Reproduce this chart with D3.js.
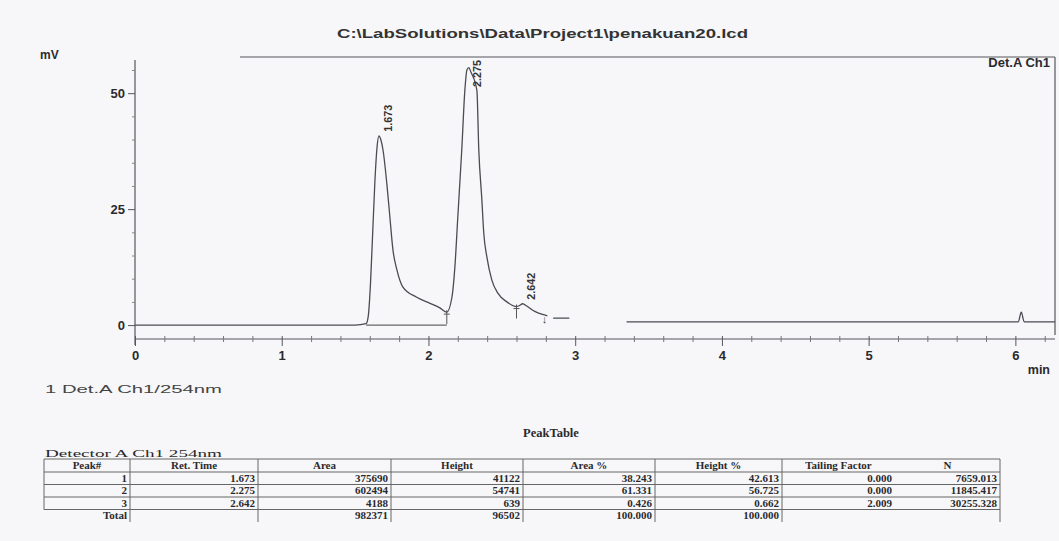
<!DOCTYPE html>
<html><head><meta charset="utf-8">
<script src="https://cdn.jsdelivr.net/npm/d3@7"></script>
<style>
body{margin:0;background:#f7f7f9;}
svg{display:block;}
</style></head>
<body>
<svg id="c" width="1059" height="541"></svg>
<script>
// ---------- data ----------
const titleText = "C:\\LabSolutions\\Data\\Project1\\penakuan20.lcd";
const channelLabel = "Det.A Ch1";
const legendText = "1 Det.A Ch1/254nm";
const xTicks = [0,1,2,3,4,5,6];
const yTicks = [0,25,50];
const yMinor = [5,10,15,20,30,35,40,45,55];
// chromatogram (min, mV); null = trace not visible on the print
const times = [0,0.5,1.0,1.5,1.575,1.590,1.605,1.620,1.635,1.650,1.662,1.675,1.690,1.716,1.737,1.758,1.785,1.826,1.92,2.01,2.078,2.125,2.16,2.18,2.20,2.227,2.248,2.262,2.275,2.29,2.33,2.343,2.364,2.377,2.398,2.432,2.473,2.534,2.60,2.62,2.642,2.67,2.71,2.75,2.79,2.81,2.83,2.85,2.96,3.0,3.35,4.0,5.0,5.9,6.02,6.04,6.06,6.2,6.27];
const signal = [0,0,0,0,0.3,2,9,20,31,38.5,40.8,40,37.8,30.6,23.3,16.2,11.9,8.2,6.0,4.7,3.7,2.8,6,12.5,23.3,37.8,50.6,55,55.5,54.5,50.6,37.8,27,19.8,14.7,9.7,6.9,5.0,4.0,4.2,4.6,4.1,3.2,2.6,2.2,2.0,null,1.5,1.5,null,0.7,0.7,0.7,0.7,0.7,2.8,0.7,0.7,0.7];
// peaks
const peakTimes = [1.673,2.275,2.642];
const peakApex = [40.8,55.5,4.6];
const integBaseline = [[1.575,0],[2.125,0]];
const boundaryMarks = [2.125,2.60];
const endArrow = 2.79;
// peak table
const tableTitle = "PeakTable";
const detectorText = "Detector A Ch1 254nm";
const tableHeaders = ["Peak#","Ret. Time","Area","Height","Area %","Height %","Tailing Factor","N"];
const colPeak = ["1","2","3","Total"];
const colRet = ["1.673","2.275","2.642",""];
const colArea = ["375690","602494","4188","982371"];
const colHeight = ["41122","54741","639","96502"];
const colAreaPct = ["38.243","61.331","0.426","100.000"];
const colHeightPct = ["42.613","56.725","0.662","100.000"];
const colTailing = ["0.000","0.000","2.009",""];
const colN = ["7659.013","11845.417","30255.328",""];

// ---------- layout ----------
const svg = d3.select("#c");
const ink = "#2a2a2e", lineC = "#55575c";
const sans = "'Liberation Sans', Arial, sans-serif";
const serif = "'Liberation Serif', 'Times New Roman', serif";

const x = d3.scaleLinear().domain([0,6.27]).range([135,1055]);
const y = d3.scaleLinear().domain([-3.0,57.8]).range([339,57]);

// title
svg.append("text").attr("x",337).attr("y",38).attr("font-family",sans).attr("font-size",13.5)
  .attr("font-weight","bold").attr("fill","#333").attr("textLength",411).attr("lengthAdjust","spacingAndGlyphs")
  .text(titleText);

// frame (top + right)
svg.append("line").attr("x1",240).attr("x2",1055).attr("y1",57).attr("y2",57).attr("stroke",lineC).attr("stroke-width",1.2);
svg.append("line").attr("x1",1055).attr("x2",1055).attr("y1",57).attr("y2",335).attr("stroke",lineC).attr("stroke-width",1.2);

// y axis
const gy = svg.append("g").attr("transform","translate(135,0)")
  .call(d3.axisLeft(y).tickValues(yTicks).tickSize(7).tickFormat(d3.format("d")));
gy.select(".domain").remove();
gy.append("line").attr("x1",0).attr("x2",0).attr("y1",60).attr("y2",345).attr("stroke",lineC).attr("stroke-width",1.2);
gy.selectAll(".tick line").attr("stroke",lineC);
gy.selectAll(".tick text").attr("font-family",sans).attr("font-size",13).attr("font-weight","bold").attr("fill",ink).attr("x",-10);
const gym = svg.append("g").attr("transform","translate(135,0)")
  .call(d3.axisLeft(y).tickValues(yMinor).tickSize(3).tickFormat(""));
gym.select(".domain").remove();
gym.selectAll(".tick line").attr("stroke","#888");

// x axis
const gx = svg.append("g").attr("transform","translate(0,339)")
  .call(d3.axisBottom(x).tickValues(xTicks).tickSize(7).tickFormat(d3.format("d")));
gx.select(".domain").attr("d","M135,0H1055").attr("stroke",lineC).attr("stroke-width",1.2);
gx.selectAll(".tick line").attr("y1",-3).attr("stroke",lineC);
gx.selectAll(".tick text").attr("font-family",sans).attr("font-size",13).attr("font-weight","bold").attr("fill",ink).attr("y",12);
const xMinor = d3.range(0,6.25,0.2).filter(v=>Math.abs(v-Math.round(v))>1e-6);
const gxm = svg.append("g").attr("transform","translate(0,339)")
  .call(d3.axisBottom(x).tickValues(xMinor).tickSize(3).tickFormat(""));
gxm.select(".domain").remove();
gxm.selectAll(".tick line").attr("y1",-3).attr("stroke","#777");

// axis captions
svg.append("text").attr("x",40).attr("y",59).attr("font-family",sans).attr("font-size",12).attr("font-weight","bold").attr("fill",ink).text("mV");
svg.append("text").attr("x",1050).attr("y",374).attr("text-anchor","end").attr("font-family",sans).attr("font-size",12.5).attr("font-weight","bold").attr("fill",ink).text("min");
svg.append("text").attr("x",1050).attr("y",67).attr("text-anchor","end").attr("font-family",sans).attr("font-size",13).attr("font-weight","bold").attr("fill",ink).text(channelLabel);

// integration baseline
svg.append("path").datum(integBaseline)
  .attr("d",d3.line().x(d=>x(d[0])).y(d=>y(d[1])))
  .attr("stroke","#666").attr("stroke-width",1.2).attr("fill","none");

// chromatogram
const pts = times.map((t,i)=>[t,signal[i]]);
svg.append("path").datum(pts)
  .attr("d",d3.line().defined(d=>d[1]!==null).x(d=>x(d[0])).y(d=>y(d[1])).curve(d3.curveMonotoneX))
  .attr("stroke","#4a4c52").attr("stroke-width",1.3).attr("fill","none");

// boundary marks
boundaryMarks.forEach(t=>{
  const v = signal[d3.bisectLeft(times,t)] || 0;
  svg.append("line").attr("x1",x(t)).attr("x2",x(t)).attr("y1",y(v)-2).attr("y2",y(v)+12).attr("stroke","#555").attr("stroke-width",1);
  svg.append("line").attr("x1",x(t)-3).attr("x2",x(t)+3).attr("y1",y(v)+2).attr("y2",y(v)+2).attr("stroke","#555").attr("stroke-width",1);
});
svg.append("text").attr("x",x(endArrow)).attr("y",y(0)-2).attr("text-anchor","middle")
  .attr("font-family",sans).attr("font-size",11).attr("fill","#444").text("\u2193");

// peak labels (rotated)
peakTimes.forEach((t,i)=>{
  const lx = x(t)+12;
  const len = 27;
  const yb = Math.max(y(peakApex[i])-4, 60+len);
  svg.append("text").attr("transform",`translate(${lx},${yb}) rotate(-90)`)
    .attr("font-family",sans).attr("font-size",10).attr("font-weight","bold").attr("fill","#333").attr("textLength",len).attr("lengthAdjust","spacingAndGlyphs")
    .text(peakTimes[i].toFixed(3));
});

// legend
svg.append("text").attr("x",45).attr("y",393).attr("font-family",sans).attr("font-size",10.5).attr("fill","#444")
  .attr("textLength",177).attr("lengthAdjust","spacingAndGlyphs").text(legendText);

// ---------- peak table ----------
svg.append("text").attr("x",551).attr("y",437).attr("text-anchor","middle").attr("font-family",serif).attr("font-size",12.5).attr("font-weight","bold").attr("fill",ink).text(tableTitle);
svg.append("text").attr("x",45).attr("y",457).attr("font-family",serif).attr("font-size",11).attr("fill",ink)
  .attr("textLength",177).attr("lengthAdjust","spacingAndGlyphs").text(detectorText);

const colX = [44,130,258,391,523,655,782,895,1000];
const rowY = [459,472,484.5,497,509.5,522];
const cols = [colPeak,colRet,colArea,colHeight,colAreaPct,colHeightPct,colTailing,colN];
const tg = svg.append("g");
rowY.slice(0,5).forEach(yy=>{
  tg.append("line").attr("x1",colX[0]).attr("x2",colX[8]).attr("y1",yy).attr("y2",yy).attr("stroke","#666").attr("stroke-width",1);
});
colX.forEach((xx,i)=>{
  if(i===7) return;
  const y2 = (i===0) ? rowY[4] : rowY[5];
  tg.append("line").attr("x1",xx).attr("x2",xx).attr("y1",rowY[0]).attr("y2",y2).attr("stroke","#666").attr("stroke-width",1);
});
tableHeaders.forEach((h,i)=>{
  tg.append("text").attr("x",(colX[i]+colX[i+1])/2).attr("y",rowY[1]-2.8).attr("text-anchor","middle")
    .attr("font-family",serif).attr("font-size",11).attr("font-weight","bold").attr("fill",ink).text(h);
});
cols.forEach((col,ci)=>{
  col.forEach((v,ri)=>{
    if(!v) return;
    tg.append("text").attr("x",colX[ci+1]-3).attr("y",rowY[ri+2]-2.6).attr("text-anchor","end")
      .attr("font-family",serif).attr("font-size",11).attr("font-weight","bold").attr("fill",ink).text(v);
  });
});
</script>
</body></html>
